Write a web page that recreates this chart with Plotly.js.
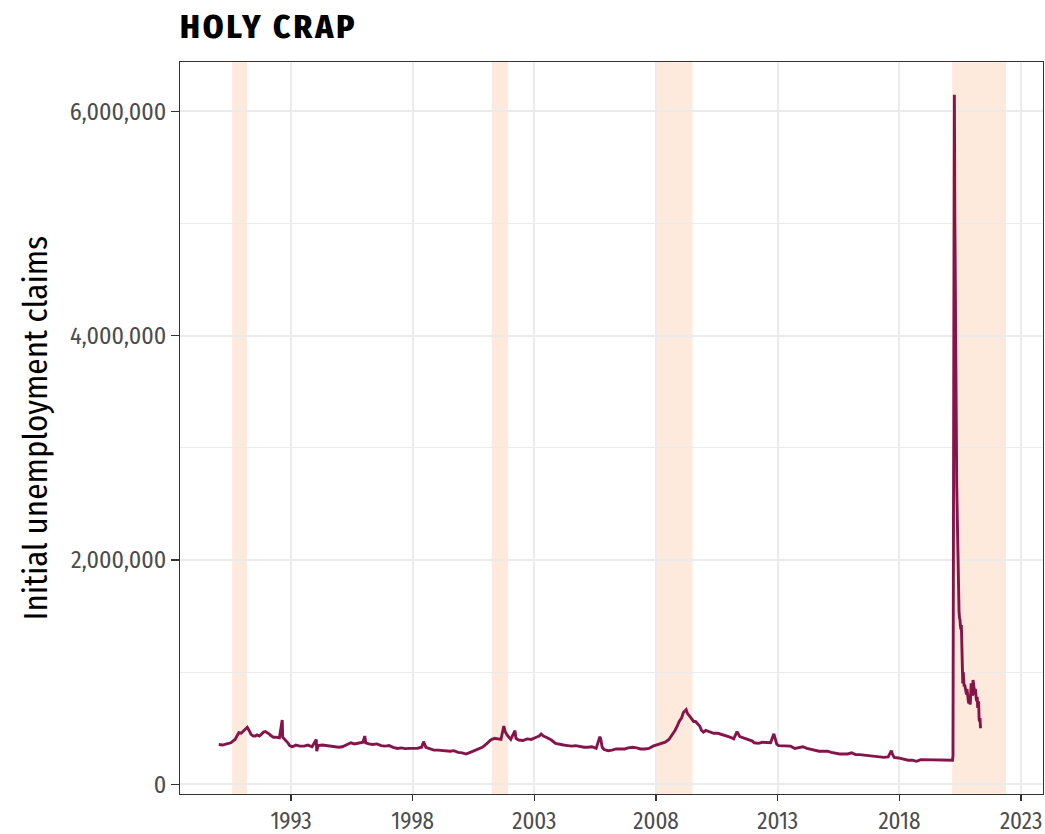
<!DOCTYPE html>
<html>
<head>
<meta charset="utf-8">
<script src="https://cdn.plot.ly/plotly-3.0.1.min.js"></script>
<style>html,body{margin:0;padding:0;background:#fff;}#chart{width:1045px;height:834px;}
.gtitle{letter-spacing:3px;}</style>
</head>
<body>
<div id="chart"></div>
<script>
// Weekly initial unemployment claims (thousands)
const dates = [
 '1990-01-13','1990-03-10','1990-05-12','1990-07-14','1990-08-11','1990-09-15','1990-10-13','1990-11-10','1990-12-15',
 '1991-01-12','1991-02-09','1991-03-16','1991-04-13','1991-05-11','1991-06-15','1991-07-13','1991-08-10','1991-09-14','1991-10-12','1991-11-16','1991-12-14',
 '1992-01-11','1992-02-15','1992-03-14','1992-04-11','1992-05-16','1992-06-13','1992-07-11','1992-08-22','1992-08-29','1992-09-12','1992-10-17','1992-11-14','1992-12-12',
 '1993-01-16','1993-02-13','1993-03-13','1993-04-17','1993-05-15','1993-07-17','1993-09-11','1993-11-13',
 '1994-01-15','1994-01-22','1994-02-12','1994-04-16','1994-07-16','1994-10-15','1994-12-17',
 '1995-02-11','1995-04-15','1995-06-17','1995-08-12','1995-10-14','1995-12-16',
 '1996-01-13','1996-01-27','1996-03-16','1996-05-11','1996-07-13','1996-09-14','1996-11-16',
 '1997-01-11','1997-03-15','1997-05-17','1997-07-12','1997-09-13','1997-11-15',
 '1998-01-17','1998-03-14','1998-05-16','1998-06-13','1998-07-18','1998-09-12','1998-11-14',
 '1999-01-16','1999-03-13','1999-05-15','1999-07-17','1999-09-11','1999-11-13',
 '2000-01-15','2000-03-11','2000-05-13','2000-07-15','2000-09-16','2000-11-11',
 '2001-01-13','2001-03-17','2001-05-12','2001-07-14','2001-08-18','2001-09-29','2001-10-20','2001-11-17','2001-12-15',
 '2002-01-12','2002-03-16','2002-03-30','2002-05-11','2002-07-13','2002-09-14','2002-11-16',
 '2003-01-11','2003-03-15','2003-04-12','2003-05-17','2003-07-12','2003-09-13','2003-11-15',
 '2004-01-17','2004-03-13','2004-05-15','2004-07-17','2004-09-11','2004-11-13',
 '2005-01-15','2005-03-12','2005-05-14','2005-07-16','2005-09-10','2005-09-24','2005-10-15','2005-11-12','2005-12-17',
 '2006-01-14','2006-03-11','2006-05-13','2006-07-15','2006-09-16','2006-11-11',
 '2007-01-13','2007-03-17','2007-05-12','2007-07-14','2007-09-15','2007-11-17',
 '2008-01-12','2008-03-15','2008-05-17','2008-07-12','2008-09-13','2008-10-11','2008-11-15','2008-12-13',
 '2009-01-17','2009-02-14','2009-03-28','2009-04-18','2009-05-16','2009-06-13','2009-07-18','2009-08-15','2009-09-12','2009-10-17','2009-11-14','2009-12-12',
 '2010-01-16','2010-03-13','2010-05-15','2010-07-17','2010-09-11','2010-11-13',
 '2011-01-15','2011-03-12','2011-04-30','2011-06-11','2011-08-13','2011-10-15','2011-12-17',
 '2012-01-14','2012-03-17','2012-05-12','2012-07-14','2012-09-15','2012-11-03','2012-11-24','2012-12-15',
 '2013-01-12','2013-03-16','2013-05-11','2013-07-13','2013-09-14','2013-11-16',
 '2014-01-11','2014-03-15','2014-05-17','2014-07-12','2014-09-13','2014-11-15',
 '2015-01-17','2015-03-14','2015-05-16','2015-07-18','2015-09-12','2015-11-14',
 '2016-01-16','2016-03-12','2016-05-14','2016-07-16','2016-09-17','2016-11-12',
 '2017-01-14','2017-03-11','2017-05-13','2017-07-15','2017-09-02','2017-09-16','2017-10-14','2017-12-16',
 '2018-01-13','2018-03-17','2018-05-12','2018-07-14','2018-09-15','2018-11-17',
 '2019-01-12','2019-03-16','2019-05-11','2019-07-13','2019-09-14','2019-11-16',
 '2020-01-11','2020-02-15','2020-02-29','2020-03-07','2020-03-14','2020-03-21','2020-03-28','2020-04-04','2020-04-11','2020-04-18','2020-04-25',
 '2020-05-02','2020-05-09','2020-05-16','2020-05-23','2020-05-30','2020-06-06','2020-06-13','2020-06-20','2020-06-27',
 '2020-07-04','2020-07-11','2020-07-18','2020-07-25','2020-08-01','2020-08-08','2020-08-15','2020-08-22','2020-08-29',
 '2020-09-05','2020-09-12','2020-09-19','2020-09-26','2020-10-03','2020-10-10','2020-10-17','2020-10-24','2020-10-31',
 '2020-11-07','2020-11-14','2020-11-21','2020-11-28','2020-12-05','2020-12-12','2020-12-19','2020-12-26',
 '2021-01-02','2021-01-09','2021-01-16','2021-01-23','2021-01-30','2021-02-06','2021-02-13','2021-02-20','2021-02-27',
 '2021-03-06','2021-03-13','2021-03-20','2021-03-27','2021-04-03','2021-04-10','2021-04-17','2021-04-24','2021-05-01'
];
const claimsK = [
 355,350,360,370,385,400,430,460,455,
 470,490,508,480,445,430,430,440,430,445,465,470,
 455,445,430,420,420,420,415,573,420,410,390,370,345,
 335,340,350,345,340,340,350,335,
 400,295,345,350,345,340,330,
 335,350,370,360,370,375,
 430,370,360,355,360,345,340,
 345,330,320,325,318,320,
 320,322,330,380,330,315,305,
 305,300,300,295,300,285,
 280,270,285,300,310,330,
 360,395,410,405,400,520,470,440,415,
 400,478,410,395,390,405,400,
 415,430,448,430,415,395,365,
 355,350,345,340,345,335,
 330,330,335,320,425,400,330,310,305,
 300,305,315,315,315,325,
 330,325,315,315,320,340,
 350,365,375,400,450,480,520,560,
 590,640,665,630,610,590,560,560,540,520,480,465,
 480,470,455,455,445,430,
 420,405,470,425,410,400,385,
 370,365,375,370,370,450,400,360,
 345,345,345,340,320,330,
 335,320,310,300,295,295,
 295,285,275,270,270,270,
 280,265,265,260,255,250,
 245,245,240,245,300,270,240,235,
 230,220,215,215,205,220,
 220,215,215,215,215,220,
 215,215,217,215,256,2920,6015,6149,5073,4242,3867,
 3176,2687,2446,2125,1877,1566,1540,1482,1470,
 1410,1380,1420,1190,1010,900,1000,880,870,
 890,860,870,840,800,850,790,760,740,
 720,760,780,710,880,900,820,790,
 790,930,880,840,810,800,850,760,760,
 740,780,680,730,740,580,560,590,500
];
const claims = claimsK.map(v => v * 1000);

// Recession shading periods
const recStart = ['1990-08-01','2001-04-01','2008-01-01','2020-03-01'];
const recEnd   = ['1991-03-15','2001-12-01','2009-07-01','2022-05-20'];

const yTicks = [0, 2000000, 4000000, 6000000];
const xTicks = ['1993-01-01','1998-01-01','2003-01-01','2008-01-01','2013-01-01','2018-01-01','2023-01-01'];
const xTickText = ['1993','1998','2003','2008','2013','2018','2023'];

const FONT = "'Fira Sans Condensed', 'Liberation Sans Narrow', Roboto, sans-serif";

const shapes = recStart.map((s, i) => ({
  type: 'rect', xref: 'x', yref: 'paper', x0: s, x1: recEnd[i], y0: 0, y1: 1,
  fillcolor: 'rgba(250,150,80,0.2)', line: {width: 0}, layer: 'between'
}));

const trace = {
  x: dates, y: claims, type: 'scatter', mode: 'lines',
  line: {color: '#85144b', width: 2.9}, hoverinfo: 'x+y'
};

const layout = {
  width: 1045, height: 834,
  margin: {l: 180, r: 2, t: 62, b: 40},
  paper_bgcolor: '#ffffff', plot_bgcolor: '#ffffff',
  showlegend: false,
  font: {family: FONT, color: '#4d4d4d'},
  title: {
    text: 'HOLY CRAP', font: {family: FONT, size: 33, color: '#000000', weight: 800},
    xref: 'paper', x: 0, xanchor: 'left', yref: 'container', y: 1 - 26/834, yanchor: 'middle'
  },
  xaxis: {
    type: 'date', range: ['1988-06-10', '2023-11-25'],
    tickvals: xTicks, ticktext: xTickText,
    ticks: 'outside', ticklen: 6, tickwidth: 1.3, tickcolor: '#333333',
    tickfont: {size: 23, color: '#4d4d4d'},
    showgrid: true, gridcolor: '#ebebeb', gridwidth: 2,
    showline: true, linecolor: '#333333', linewidth: 1, mirror: true,
    zeroline: false
  },
  yaxis: {
    range: [-86500, 6440000],
    tickvals: yTicks, tickformat: ',.0f',
    ticks: 'outside', ticklen: 8, tickwidth: 1.3, tickcolor: '#333333',
    tickfont: {size: 24, color: '#4d4d4d'},
    showgrid: true, gridcolor: '#ebebeb', gridwidth: 2,
    minor: {dtick: 1000000, tick0: 1000000, showgrid: true, gridcolor: '#ebebeb', gridwidth: 1, ticks: ''},
    showline: true, linecolor: '#333333', linewidth: 1, mirror: true,
    zeroline: false,
    title: {text: 'Initial unemployment claims', font: {size: 33, color: '#000000'}, standoff: 12}
  },
  shapes: shapes
};

Plotly.newPlot('chart', [trace], layout, {displayModeBar: false, staticPlot: true});
</script>
</body>
</html>
